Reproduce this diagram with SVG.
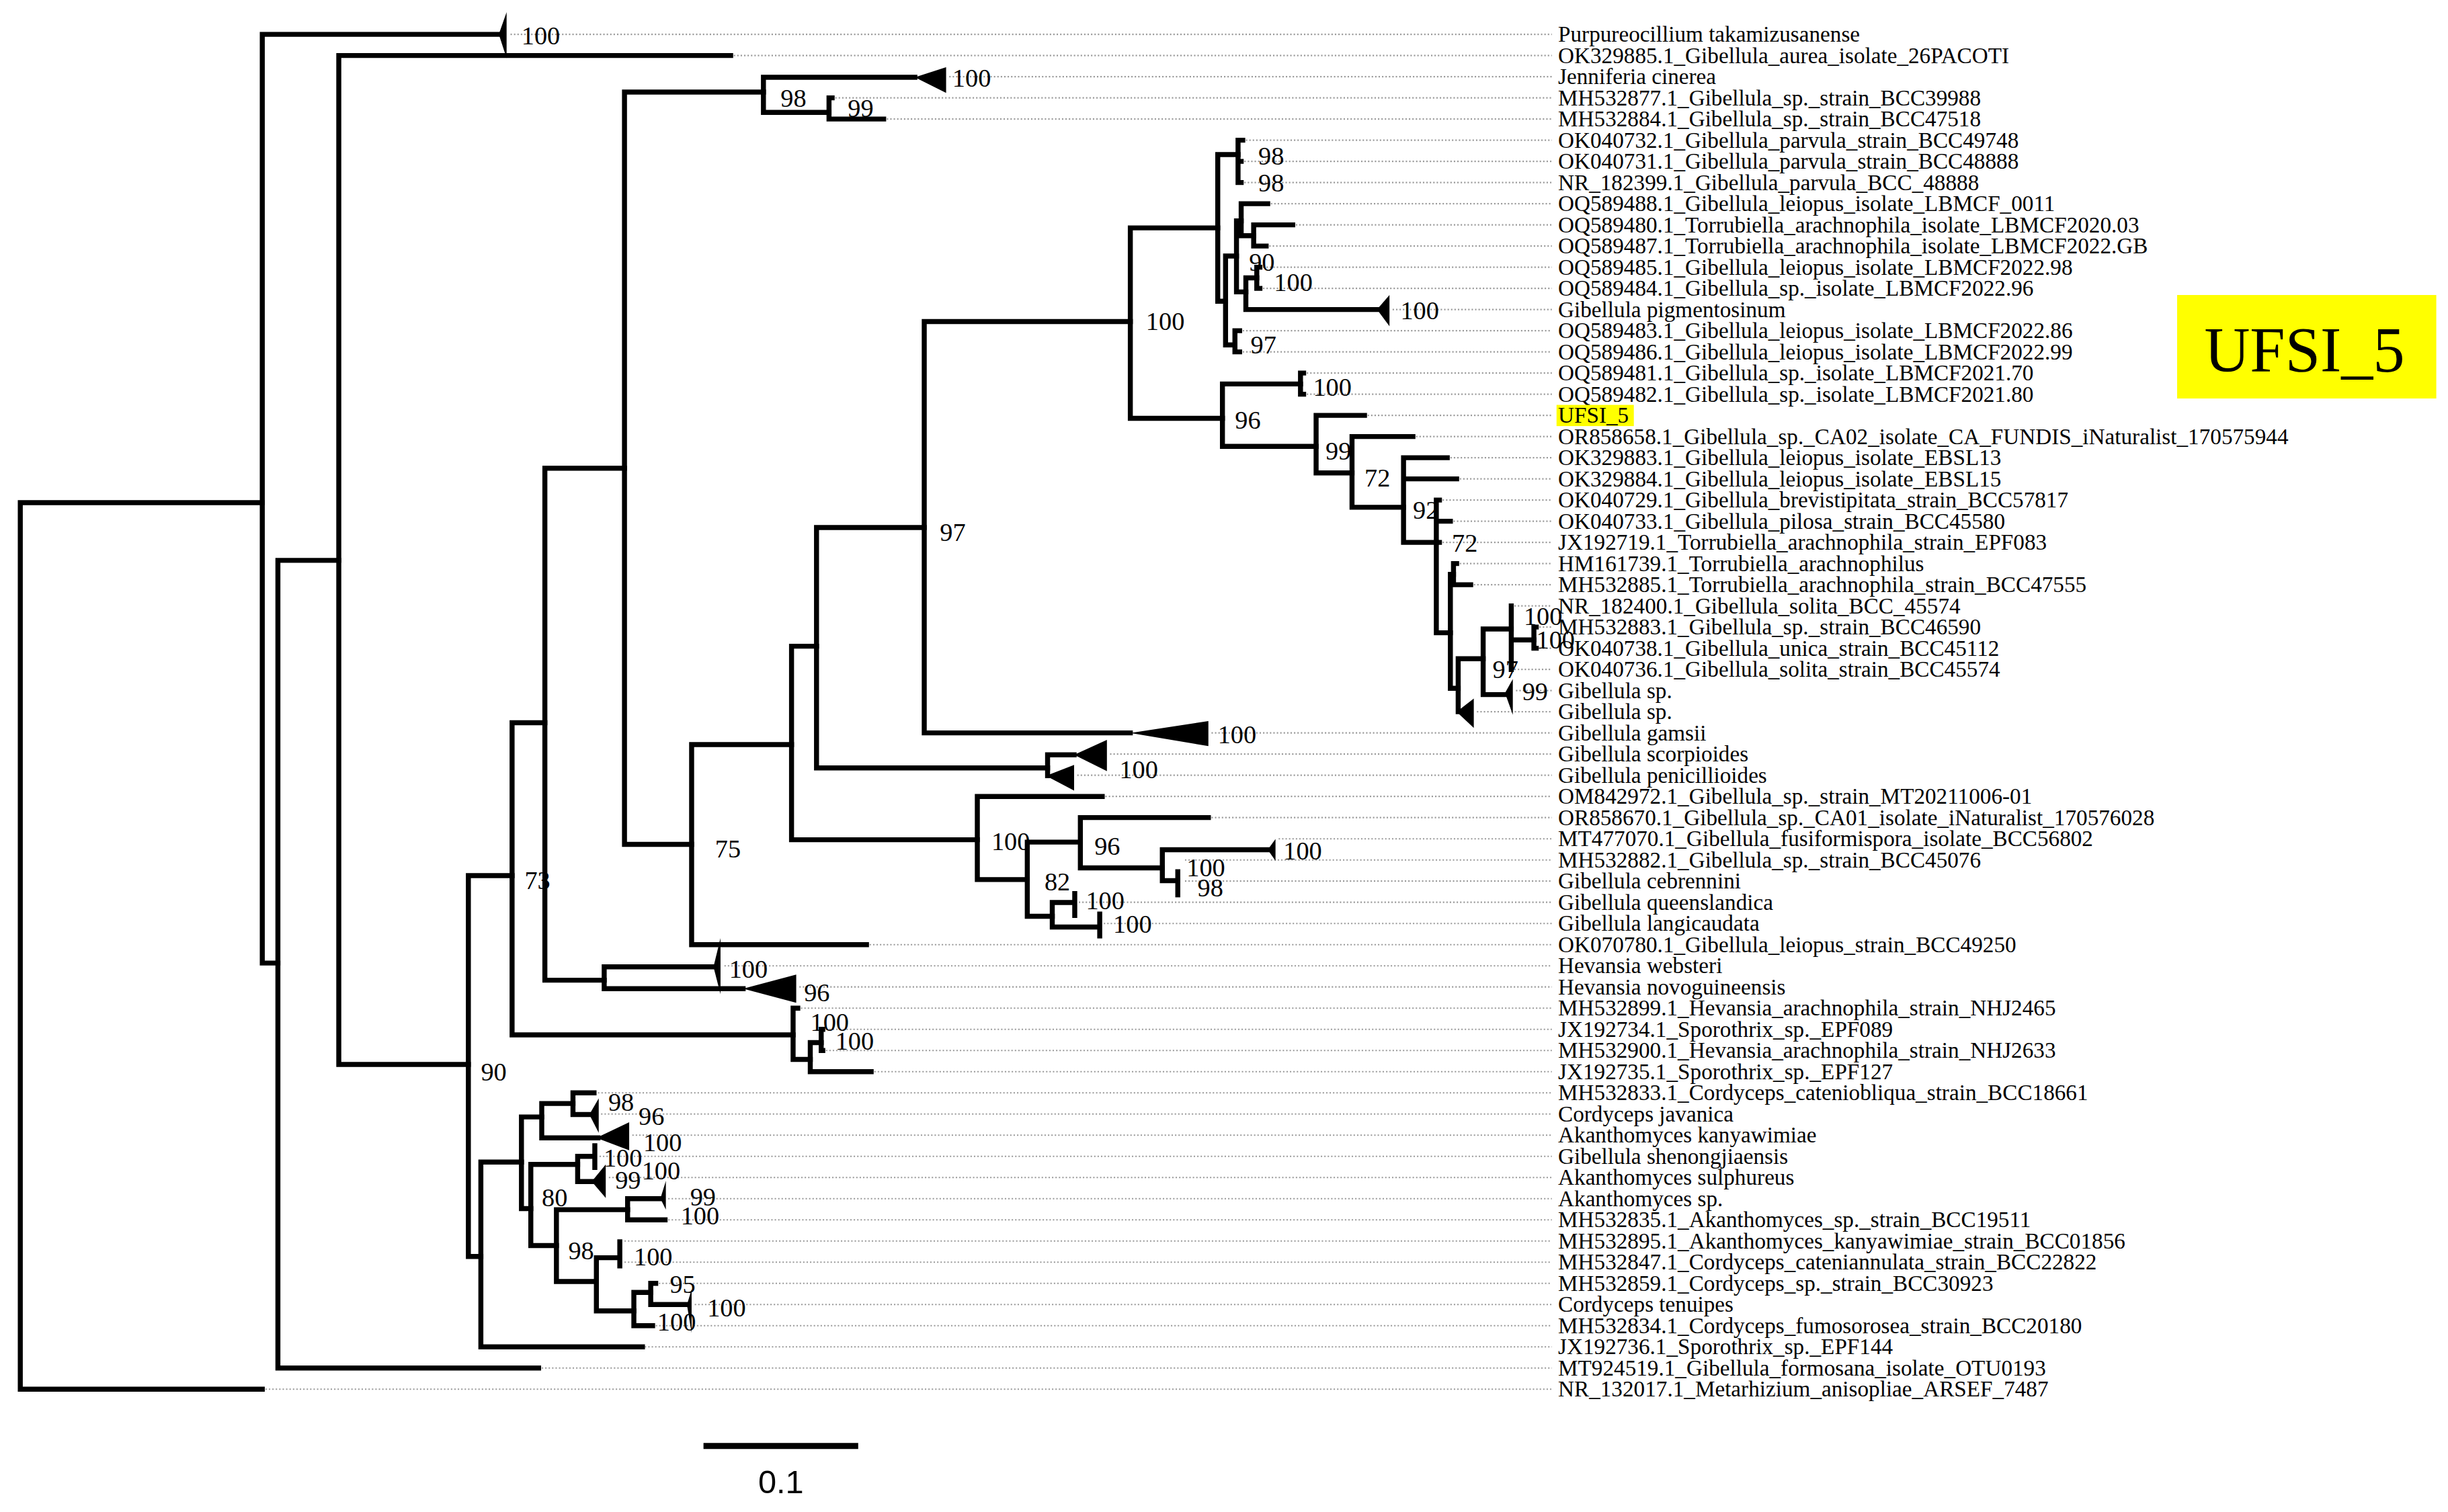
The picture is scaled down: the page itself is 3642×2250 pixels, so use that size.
<svg xmlns="http://www.w3.org/2000/svg" width="3642" height="2250" viewBox="0 0 3642 2250">
<style>
.b{stroke:#000;stroke-width:3.2;fill:none;stroke-linecap:square;stroke-linejoin:miter}
.t{fill:#000;stroke:none}
.d{stroke:#9a9a9a;stroke-width:0.9;stroke-dasharray:0.9 1.3;fill:none}
.lb{font-family:"Liberation Serif","Times New Roman",serif;font-size:14.3px;fill:#000}
.s{font-family:"Liberation Serif","Times New Roman",serif;font-size:16.5px;fill:#000}
</style>
<rect x="0" y="0" width="3642" height="2250" fill="#fff"/>
<g transform="scale(2.322704)">
<g id="leaders">
<path class="d" d="M327 22H994M470 35.56H994M608 49.13H994M535 62.69H994M568 76.25H994M798 89.81H994M797 103.38H994M797 116.94H994M814 130.5H994M830 144.06H994M813 157.63H994M809 171.19H994M809 184.75H994M892 198.31H994M796 211.88H994M796 225.44H994M837 239H994M837 252.56H994M876 266.13H994M907 279.69H994M929 293.25H994M935 306.81H994M924 320.38H994M931 333.94H994M924 347.5H994M935 361.06H994M944 374.63H994M970 388.19H994M986 401.75H994M986 415.31H994M970 428.88H994M971 442.44H994M946 456H994M776 469.56H994M711 483.13H994M690 496.69H994M708 510.25H994M776 523.81H994M819 537.38H994M759 550.94H994M759 564.5H994M691 578.06H994M707 591.63H994M557 605.19H994M464 618.75H994M512 632.31H994M513 645.88H994M529 659.44H994M529 673H994M560 686.56H994M383 700.13H994M385 713.69H994M405 727.25H994M384 740.81H994M390 754.38H994M428 767.94H994M428 781.5H994M400 795.06H994M400 808.63H994M422 822.19H994M445 835.75H994M420 849.31H994M413 862.88H994M347 876.44H994M170 890H994"/>
</g>
<g id="connectors">
<path class="b" d="M13 322V890M13 890H168M13 322H168"/>
<path class="b" d="M168 22V617M168 22H320M168 617H178"/>
<path class="b" d="M178 359V876.44M178 876.44H345M178 359H217"/>
<path class="b" d="M217 35.56V682M217 35.56H468M217 682H300"/>
<path class="b" d="M300 561V805M300 561H328M300 805H308"/>
<path class="b" d="M328 463V663M328 463H349M328 663H508"/>
<path class="b" d="M349 300V628M349 300H400M349 628H387"/>
<path class="b" d="M400 59V541M400 59H489M400 541H443"/>
<path class="b" d="M489 49.5V72M489 49.5H586M489 72H531"/>
<path class="b" d="M531 62.69V76.25M531 62.69H533M531 76.25H566"/>
<path class="b" d="M443 477V605.19M443 605.19H555M443 477H507"/>
<path class="b" d="M507 414V538M507 414H523M507 538H626"/>
<path class="b" d="M523 338V492M523 338H592M523 492H671"/>
<path class="b" d="M592 206V469.56M592 206H724M592 469.56H724"/>
<path class="b" d="M724 146V268M724 146H780M724 268H783"/>
<path class="b" d="M780 99V193M780 99H793M780 193H785"/>
<path class="b" d="M793 89.81V116.94M793 89.81H796M793 103.38H795M793 116.94H795"/>
<path class="b" d="M785 164V221M785 164H792M785 221H791"/>
<path class="b" d="M792 141.5V187M792 141.5H795M792 187H798"/>
<path class="b" d="M795 130.5V151M795 130.5H812M795 151H803"/>
<path class="b" d="M803 144.06V157.63M803 144.06H828M803 157.63H811"/>
<path class="b" d="M798 178V198.31M798 178H805M798 198.31H882"/>
<path class="b" d="M805 171.19V184.75M805 171.19H807M805 184.75H807"/>
<path class="b" d="M791 211.88V225.44M791 211.88H794M791 225.44H794"/>
<path class="b" d="M783 246V286M783 246H833M783 286H843"/>
<path class="b" d="M833 239V252.56M833 239H835M833 252.56H835"/>
<path class="b" d="M843 266.13V303M843 266.13H874M843 303H866"/>
<path class="b" d="M866 279.69V325M866 279.69H905M866 325H899"/>
<path class="b" d="M899 293.25V347.5M899 293.25H927M899 306.81H933M899 347.5H920"/>
<path class="b" d="M920 320.38V405.4M920 320.38H922M920 333.94H929M920 347.5H922M920 405.4H929"/>
<path class="b" d="M929 368V441M929 368H931M929 441H934"/>
<path class="b" d="M931 361.06V374.63M931 361.06H933M931 374.63H942"/>
<path class="b" d="M934 422V456M934 422H950"/>
<path class="b" d="M950 403V445M950 403H968M950 445H964"/>
<path class="b" d="M968 388.19V428.88M968 410H982.5"/>
<path class="b" d="M982.5 401.75V415.31M982.5 401.75H984M982.5 415.31H984"/>
<path class="b" d="M671 483.6V497M671 483.6H688"/>
<path class="b" d="M626 510.25V563.5M626 510.25H706M626 563.5H658"/>
<path class="b" d="M658 539.5V587M658 539.5H692M658 587H674"/>
<path class="b" d="M692 523.81V556M692 523.81H774M692 556H744.5"/>
<path class="b" d="M744.5 544.4V564.2M744.5 544.4H813M744.5 564.2H754.4"/>
<path class="b" d="M754.4 558.5V573.3"/>
<path class="b" d="M674 578.2V593.9M674 578.2H688.4M674 593.9H704.4M688.4 572.5V586.5M704.4 585.6V599.6"/>
<path class="b" d="M387 619.4V633.4M387 619.4H457M387 633.4H476"/>
<path class="b" d="M508 645.88V678.7M508 645.88H511M508 678.7H519"/>
<path class="b" d="M519 668V686.56M519 668H526M519 686.56H558"/>
<path class="b" d="M526 659.44V673M526 659.44H527M526 673H527"/>
<path class="b" d="M308 744.5V862.88M308 862.88H411.5M308 744.5H334"/>
<path class="b" d="M334 715.6V774.3M334 715.6H347M334 774.3H340"/>
<path class="b" d="M347 707V729M347 707H367M347 729H383"/>
<path class="b" d="M367 700.13V714M367 700.13H380.5M367 714H377.5"/>
<path class="b" d="M340 746V798M340 746H370M340 798H356.4"/>
<path class="b" d="M370 740.81V757M370 740.81H381M370 757H379M381 734V748"/>
<path class="b" d="M356.4 775V821M356.4 775H402M356.4 821H382"/>
<path class="b" d="M402 767.94V781.5M402 767.94H423M402 781.5H426"/>
<path class="b" d="M382 805.8V839.9M382 805.8H397M382 839.9H406M397 795.6V811"/>
<path class="b" d="M406 828V849.31M406 828H416.8M406 849.31H418"/>
<path class="b" d="M416.8 822.19V835.75M416.8 822.19H420M416.8 835.75H440"/>
<g id="collapsed">
<polygon class="t" points="319.5,22 324.5,7.7 324.5,37.3"/>
<polygon class="t" points="586,49.5 606,43 606,59.5"/>
<polygon class="t" points="882,198.3 890,189 890,209"/>
<polygon class="t" points="933,456 944,447.5 944,466.4"/>
<polygon class="t" points="964,444 969,435 969,458"/>
<polygon class="t" points="724,469.6 774,462 774,478"/>
<polygon class="t" points="688,483.6 709,474 709,494"/>
<polygon class="t" points="670,497 688,490 688,506.5"/>
<polygon class="t" points="812,544.4 817,537.5 817,551.5"/>
<polygon class="t" points="457,619.4 461.5,601 461.5,637"/>
<polygon class="t" points="476,633.4 510,624.4 510,642.5"/>
<polygon class="t" points="377.5,714 383.5,703.7 383.5,725.8"/>
<polygon class="t" points="382,729 403,719 403,737"/>
<polygon class="t" points="379,757 388,746 388,767.5"/>
<polygon class="t" points="423,767.9 426.5,756.5 426.5,775"/>
<polygon class="t" points="440,836 443,826 443,854"/>
</g>
</g>
<g id="support">
<text class="s" x="334" y="28.5">100</text>
<text class="s" x="500" y="68.5">98</text>
<text class="s" x="543" y="75">99</text>
<text class="s" x="610" y="55.5">100</text>
<text class="s" x="806" y="105.5">98</text>
<text class="s" x="806" y="122.5">98</text>
<text class="s" x="800" y="173.5">90</text>
<text class="s" x="816" y="186.5">100</text>
<text class="s" x="897" y="204.5">100</text>
<text class="s" x="801" y="226.5">97</text>
<text class="s" x="734" y="211.5">100</text>
<text class="s" x="841" y="253.5">100</text>
<text class="s" x="791" y="274.5">96</text>
<text class="s" x="849" y="294.5">99</text>
<text class="s" x="874" y="311.5">72</text>
<text class="s" x="905" y="332.5">92</text>
<text class="s" x="930" y="353.5">72</text>
<text class="s" x="976" y="400.5">100</text>
<text class="s" x="984" y="415.5">100</text>
<text class="s" x="956" y="434.5">97</text>
<text class="s" x="975" y="448.5">99</text>
<text class="s" x="602" y="346.5">97</text>
<text class="s" x="780" y="476">100</text>
<text class="s" x="717" y="498.5">100</text>
<text class="s" x="458" y="549.5">75</text>
<text class="s" x="635" y="544.5">100</text>
<text class="s" x="701" y="547.5">96</text>
<text class="s" x="669" y="570.5">82</text>
<text class="s" x="822" y="550.5">100</text>
<text class="s" x="760" y="561.5">100</text>
<text class="s" x="767" y="574.5">98</text>
<text class="s" x="695.5" y="582.5">100</text>
<text class="s" x="713" y="597.5">100</text>
<text class="s" x="336" y="569.5">73</text>
<text class="s" x="467" y="626.5">100</text>
<text class="s" x="515" y="641.5">96</text>
<text class="s" x="519" y="660.5">100</text>
<text class="s" x="535" y="672.5">100</text>
<text class="s" x="308" y="692.5">90</text>
<text class="s" x="389.6" y="711.5">98</text>
<text class="s" x="409" y="720.5">96</text>
<text class="s" x="412" y="737.5">100</text>
<text class="s" x="386.6" y="747.5">100</text>
<text class="s" x="411" y="755.5">100</text>
<text class="s" x="394" y="761.5">99</text>
<text class="s" x="442" y="772.5">99</text>
<text class="s" x="436" y="784.5">100</text>
<text class="s" x="347" y="773">80</text>
<text class="s" x="364" y="807">98</text>
<text class="s" x="406" y="810.5">100</text>
<text class="s" x="429" y="828.5">95</text>
<text class="s" x="453" y="843.5">100</text>
<text class="s" x="421" y="852.5">100</text>
</g>
<g id="leaf01"><text class="lb" x="998" y="26.8">Purpureocillium takamizusanense</text></g>
<g id="leaf02"><text class="lb" x="998" y="40.36">OK329885.1_Gibellula_aurea_isolate_26PACOTI</text></g>
<g id="leaf03"><text class="lb" x="998" y="53.93">Jenniferia cinerea</text></g>
<g id="leaf04"><text class="lb" x="998" y="67.49">MH532877.1_Gibellula_sp._strain_BCC39988</text></g>
<g id="leaf05"><text class="lb" x="998" y="81.05">MH532884.1_Gibellula_sp._strain_BCC47518</text></g>
<g id="leaf06"><text class="lb" x="998" y="94.61">OK040732.1_Gibellula_parvula_strain_BCC49748</text></g>
<g id="leaf07"><text class="lb" x="998" y="108.18">OK040731.1_Gibellula_parvula_strain_BCC48888</text></g>
<g id="leaf08"><text class="lb" x="998" y="121.74">NR_182399.1_Gibellula_parvula_BCC_48888</text></g>
<g id="leaf09"><text class="lb" x="998" y="135.3">OQ589488.1_Gibellula_leiopus_isolate_LBMCF_0011</text></g>
<g id="leaf10"><text class="lb" x="998" y="148.86">OQ589480.1_Torrubiella_arachnophila_isolate_LBMCF2020.03</text></g>
<g id="leaf11"><text class="lb" x="998" y="162.43">OQ589487.1_Torrubiella_arachnophila_isolate_LBMCF2022.GB</text></g>
<g id="leaf12"><text class="lb" x="998" y="175.99">OQ589485.1_Gibellula_leiopus_isolate_LBMCF2022.98</text></g>
<g id="leaf13"><text class="lb" x="998" y="189.55">OQ589484.1_Gibellula_sp._isolate_LBMCF2022.96</text></g>
<g id="leaf14"><text class="lb" x="998" y="203.11">Gibellula pigmentosinum</text></g>
<g id="leaf15"><text class="lb" x="998" y="216.68">OQ589483.1_Gibellula_leiopus_isolate_LBMCF2022.86</text></g>
<g id="leaf16"><text class="lb" x="998" y="230.24">OQ589486.1_Gibellula_leiopus_isolate_LBMCF2022.99</text></g>
<g id="leaf17"><text class="lb" x="998" y="243.8">OQ589481.1_Gibellula_sp._isolate_LBMCF2021.70</text></g>
<g id="leaf18"><text class="lb" x="998" y="257.36">OQ589482.1_Gibellula_sp._isolate_LBMCF2021.80</text></g>
<g id="leaf19"><rect x="997" y="259.4" width="49.5" height="13.6" fill="#ffff00"/><text class="lb" x="998" y="270.93">UFSI_5</text></g>
<g id="leaf20"><text class="lb" x="998" y="284.49">OR858658.1_Gibellula_sp._CA02_isolate_CA_FUNDIS_iNaturalist_170575944</text></g>
<g id="leaf21"><text class="lb" x="998" y="298.05">OK329883.1_Gibellula_leiopus_isolate_EBSL13</text></g>
<g id="leaf22"><text class="lb" x="998" y="311.61">OK329884.1_Gibellula_leiopus_isolate_EBSL15</text></g>
<g id="leaf23"><text class="lb" x="998" y="325.18">OK040729.1_Gibellula_brevistipitata_strain_BCC57817</text></g>
<g id="leaf24"><text class="lb" x="998" y="338.74">OK040733.1_Gibellula_pilosa_strain_BCC45580</text></g>
<g id="leaf25"><text class="lb" x="998" y="352.3">JX192719.1_Torrubiella_arachnophila_strain_EPF083</text></g>
<g id="leaf26"><text class="lb" x="998" y="365.86">HM161739.1_Torrubiella_arachnophilus</text></g>
<g id="leaf27"><text class="lb" x="998" y="379.43">MH532885.1_Torrubiella_arachnophila_strain_BCC47555</text></g>
<g id="leaf28"><text class="lb" x="998" y="392.99">NR_182400.1_Gibellula_solita_BCC_45574</text></g>
<g id="leaf29"><text class="lb" x="998" y="406.55">MH532883.1_Gibellula_sp._strain_BCC46590</text></g>
<g id="leaf30"><text class="lb" x="998" y="420.11">OK040738.1_Gibellula_unica_strain_BCC45112</text></g>
<g id="leaf31"><text class="lb" x="998" y="433.68">OK040736.1_Gibellula_solita_strain_BCC45574</text></g>
<g id="leaf32"><text class="lb" x="998" y="447.24">Gibellula sp.</text></g>
<g id="leaf33"><text class="lb" x="998" y="460.8">Gibellula sp.</text></g>
<g id="leaf34"><text class="lb" x="998" y="474.36">Gibellula gamsii</text></g>
<g id="leaf35"><text class="lb" x="998" y="487.93">Gibellula scorpioides</text></g>
<g id="leaf36"><text class="lb" x="998" y="501.49">Gibellula penicillioides</text></g>
<g id="leaf37"><text class="lb" x="998" y="515.05">OM842972.1_Gibellula_sp._strain_MT20211006-01</text></g>
<g id="leaf38"><text class="lb" x="998" y="528.61">OR858670.1_Gibellula_sp._CA01_isolate_iNaturalist_170576028</text></g>
<g id="leaf39"><text class="lb" x="998" y="542.18">MT477070.1_Gibellula_fusiformispora_isolate_BCC56802</text></g>
<g id="leaf40"><text class="lb" x="998" y="555.74">MH532882.1_Gibellula_sp._strain_BCC45076</text></g>
<g id="leaf41"><text class="lb" x="998" y="569.3">Gibellula cebrennini</text></g>
<g id="leaf42"><text class="lb" x="998" y="582.86">Gibellula queenslandica</text></g>
<g id="leaf43"><text class="lb" x="998" y="596.43">Gibellula langicaudata</text></g>
<g id="leaf44"><text class="lb" x="998" y="609.99">OK070780.1_Gibellula_leiopus_strain_BCC49250</text></g>
<g id="leaf45"><text class="lb" x="998" y="623.55">Hevansia websteri</text></g>
<g id="leaf46"><text class="lb" x="998" y="637.11">Hevansia novoguineensis</text></g>
<g id="leaf47"><text class="lb" x="998" y="650.68">MH532899.1_Hevansia_arachnophila_strain_NHJ2465</text></g>
<g id="leaf48"><text class="lb" x="998" y="664.24">JX192734.1_Sporothrix_sp._EPF089</text></g>
<g id="leaf49"><text class="lb" x="998" y="677.8">MH532900.1_Hevansia_arachnophila_strain_NHJ2633</text></g>
<g id="leaf50"><text class="lb" x="998" y="691.36">JX192735.1_Sporothrix_sp._EPF127</text></g>
<g id="leaf51"><text class="lb" x="998" y="704.93">MH532833.1_Cordyceps_cateniobliqua_strain_BCC18661</text></g>
<g id="leaf52"><text class="lb" x="998" y="718.49">Cordyceps javanica</text></g>
<g id="leaf53"><text class="lb" x="998" y="732.05">Akanthomyces kanyawimiae</text></g>
<g id="leaf54"><text class="lb" x="998" y="745.61">Gibellula shenongjiaensis</text></g>
<g id="leaf55"><text class="lb" x="998" y="759.18">Akanthomyces sulphureus</text></g>
<g id="leaf56"><text class="lb" x="998" y="772.74">Akanthomyces sp.</text></g>
<g id="leaf57"><text class="lb" x="998" y="786.3">MH532835.1_Akanthomyces_sp._strain_BCC19511</text></g>
<g id="leaf58"><text class="lb" x="998" y="799.86">MH532895.1_Akanthomyces_kanyawimiae_strain_BCC01856</text></g>
<g id="leaf59"><text class="lb" x="998" y="813.43">MH532847.1_Cordyceps_cateniannulata_strain_BCC22822</text></g>
<g id="leaf60"><text class="lb" x="998" y="826.99">MH532859.1_Cordyceps_sp._strain_BCC30923</text></g>
<g id="leaf61"><text class="lb" x="998" y="840.55">Cordyceps tenuipes</text></g>
<g id="leaf62"><text class="lb" x="998" y="854.11">MH532834.1_Cordyceps_fumosorosea_strain_BCC20180</text></g>
<g id="leaf63"><text class="lb" x="998" y="867.68">JX192736.1_Sporothrix_sp._EPF144</text></g>
<g id="leaf64"><text class="lb" x="998" y="881.24">MT924519.1_Gibellula_formosana_isolate_OTU0193</text></g>
<g id="leaf65"><text class="lb" x="998" y="894.8">NR_132017.1_Metarhizium_anisopliae_ARSEF_7487</text></g>
<g id="callout"><rect x="1394.5" y="189" width="166" height="66.3" fill="#ffff00"/><text x="1411.9" y="238.1" font-family="Liberation Serif, Times New Roman, serif" font-size="41.3" textLength="128.3" lengthAdjust="spacingAndGlyphs" fill="#000">UFSI_5</text></g>
<g id="scalebar"><path d="M450.6 926.4H549.7" stroke="#000" stroke-width="3.9"/><text x="500.2" y="956.5" text-anchor="middle" font-family="Liberation Sans, Arial, sans-serif" font-size="21" fill="#000">0.1</text></g>
</g>
</svg>
